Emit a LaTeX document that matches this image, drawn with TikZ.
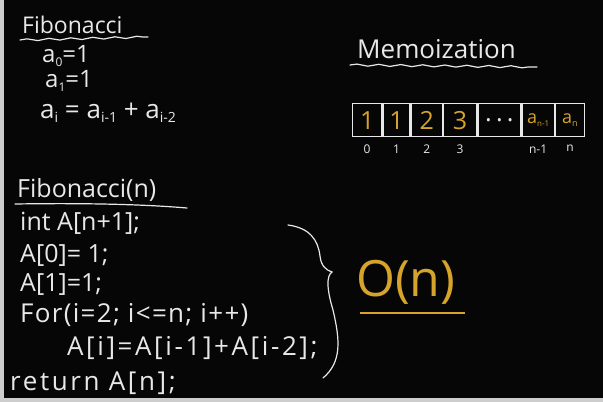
\documentclass[tikz,border=0pt]{standalone}
\usepackage{fontspec}
\setmainfont{Open Sans}
\newfontfamily\loosefont[LetterSpace=5]{Open Sans}
\newfontfamily\widefont[LetterSpace=10]{Open Sans}
\usepackage{xcolor}
\usetikzlibrary{positioning, decorations.pathmorphing}
\definecolor{chalk}{RGB}{232,232,232}
\definecolor{gold}{RGB}{214,164,42}
\definecolor{board}{RGB}{6,6,6}
\definecolor{frame}{RGB}{205,205,205}
\newcommand{\low}[2][14]{\raisebox{-0.35ex}{\fontsize{#1}{#1}\selectfont #2}}

\begin{document}
\begin{tikzpicture}[
        x=1pt, y=-1pt,
        hand/.style      ={text=chalk, inner sep=0pt, anchor=base west},
        title/.style     ={hand, font=\fontsize{23}{26}\selectfont},
        formula/.style   ={hand, font=\fontsize{26}{28}\selectfont},
        code/.style      ={hand, font=\fontsize{25}{28}\selectfont},
        cell/.style      ={draw=chalk, line width=1.3pt, minimum height=33pt,
                           inner sep=0pt, text=gold, font=\fontsize{25}{25}\selectfont},
        idx/.style       ={text=chalk, inner sep=0pt, font=\fontsize{12}{12}\selectfont},
        stroke/.style    ={draw=chalk, line width=1.2pt, line cap=round},
        wavy/.style      ={stroke, decorate,
                           decoration={snake, amplitude=1pt, segment length=22pt}}
    ]
      % ===== BOARD =====
      \fill[board] (0,0) rectangle (603,402);
      \fill[frame] (0,0) rectangle (4,402);
      \fill[frame] (0,398) rectangle (603,402);

      % ===== RECURRENCE =====
      \node[title]   (fib)   at (22,33)  {Fibonacci};
      \draw[wavy] (20,40) -- (148,37);
      \node[formula, font=\fontsize{24}{26}\selectfont] (a0) at (42,62) {a\low[12]{0}=1};
      \node[formula, font=\fontsize{24}{26}\selectfont] (a1) at (45,87) {a\low[12]{1}=1};
      \node[formula] (ai)    at (40,118) {a\low{i} = a\low{i-1} + a\low{i-2}};

      % ===== MEMO TABLE =====
      \node[title, font=\fontsize{26}{28}\selectfont] (memo) at (357,58) {Memoization};
      \draw[wavy] (350,65) -- (537,67);
      \node[cell, minimum width=29pt, anchor=north west] (c0) at (352,103) {1};
      \node[cell, minimum width=27pt, right=0pt of c0] (c1) {1};
      \node[cell, minimum width=31pt, right=0pt of c1] (c2) {2};
      \node[cell, minimum width=33pt, right=0pt of c2] (c3) {3};
      \node[cell, minimum width=43pt, right=0pt of c3, text=chalk] (dots) {.\,.\,.};
      \node[cell, minimum width=32pt, right=0pt of dots,
            font=\fontsize{18}{18}\selectfont] (cn1) {a\low[8]{n-1}};
      \node[cell, minimum width=29pt, right=0pt of cn1,
            font=\fontsize{18}{18}\selectfont] (cn)  {a\low[9]{n}};
      \node[idx, below=7pt of c0]  {0};
      \node[idx, below=7pt of c1]  {1};
      \node[idx, below=7pt of c2]  {2};
      \node[idx, below=7pt of c3]  {3};
      \node[idx, below=7pt of cn1] {n-1};
      \node[idx, below=7pt of cn]  {n};

      % ===== CODE =====
      \node[title, font=\fontsize{25}{28}\selectfont] (fn) at (17,197) {Fibonacci(n)};
      \draw[stroke] (15,204) .. controls (80,203) and (140,204) .. (187,208);
      \node[code] (l1) at (20,230) {int A[n+1];};
      \node[code] (l2) at (20,262) {A[0]= 1;};
      \node[code] (l3) at (20,291) {A[1]=1;};
      \node[code, font=\loosefont\fontsize{26}{28}\selectfont] (l4) at (20,322) {For(i=2; i<=n; i++)};
      \node[code, font=\widefont\fontsize{26}{28}\selectfont]  (l5) at (67,355) {A[i]=A[i-1]+A[i-2];};
      \node[code, font=\widefont\fontsize{26}{28}\selectfont]  (l6) at (10,390) {return A[n];};

      % brace round the code
      \draw[stroke] (288,225) .. controls (310,228) and (318,240) .. (320,256)
                    .. controls (321,266) and (326,270) .. (332,272)
                    .. controls (326,276) and (327,290) .. (333,310)
                    .. controls (340,340) and (342,362) .. (323,378);

      % ===== COST =====
      \node[hand, text=gold, font=\fontsize{50}{50}\selectfont] (cost) at (356,296) {O(n)};
      \draw[draw=gold, line width=1.4pt] (360,313) -- (465,313);
    \end{tikzpicture}
\end{document}
